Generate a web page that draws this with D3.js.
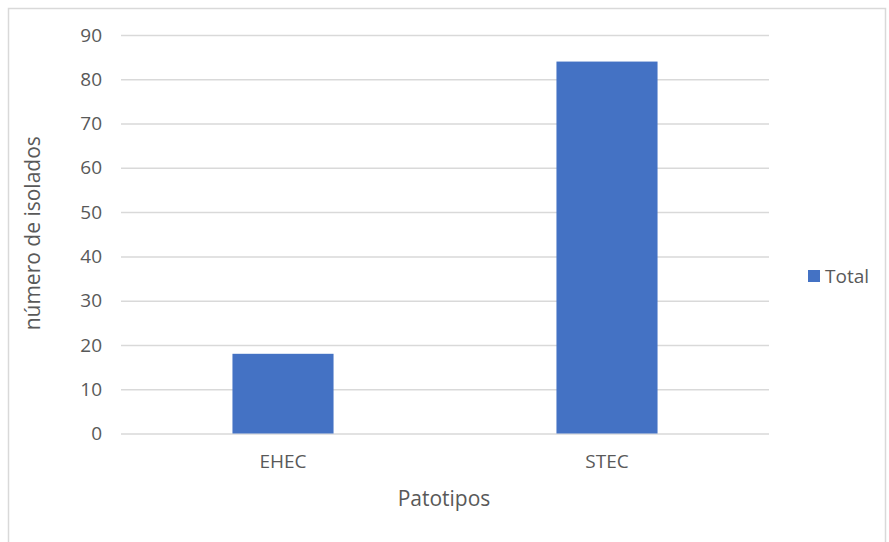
<!DOCTYPE html>
<html><head><meta charset="utf-8">
<script src="https://cdn.jsdelivr.net/npm/d3@7"></script>
<style>body{margin:0;background:#fff}</style>
</head><body>
<script>
const categories = ["EHEC", "STEC"];
const totals = [18, 84];
const yTicks = [0, 10, 20, 30, 40, 50, 60, 70, 80, 90];
const seriesName = "Total";
const xTitle = "Patotipos";
const yTitle = "número de isolados";

(function () {
const W = 889, H = 542;
const svg = d3.select("body").append("svg").attr("width", W).attr("height", H);
const font = "'Open Sans', 'Noto Sans', sans-serif";
const textColor = "#595959";

svg.append("rect").attr("x", 8.5).attr("y", 8.5).attr("width", 877).attr("height", 545)
  .attr("fill", "#fff").attr("stroke", "#d9d9d9").attr("stroke-width", 1.5);

const pLeft = 121, pRight = 769, pTop = 35, pBottom = 433.5;
const x = d3.scaleBand().domain(categories).range([pLeft, pRight]).paddingInner(0.688).paddingOuter(0.344);
const y = d3.scaleLinear().domain([0, 90]).range([pBottom, pTop]);

const yAxis = svg.append("g").attr("transform", `translate(${pLeft},0)`)
  .call(d3.axisLeft(y).tickValues(yTicks).tickSize(-(pRight - pLeft)).tickPadding(19));
yAxis.select(".domain").remove();
yAxis.selectAll(".tick line").attr("stroke", "#d9d9d9").attr("stroke-width", 1.5);
yAxis.selectAll(".tick text").attr("fill", textColor).style("font-family", font).style("font-size", "19px");

svg.selectAll("rect.bar").data(categories).enter().append("rect").attr("class", "bar")
  .attr("x", d => x(d)).attr("width", x.bandwidth())
  .attr("y", (d, i) => y(totals[i])).attr("height", (d, i) => y(0) - y(totals[i]))
  .attr("fill", "#4472c4");

const xAxis = svg.append("g").attr("transform", `translate(0,${pBottom})`)
  .call(d3.axisBottom(x).tickSize(0).tickPadding(21));
xAxis.select(".domain").remove();
xAxis.selectAll(".tick text").attr("fill", textColor).style("font-family", font).style("font-size", "19px");

svg.append("text").attr("x", (pLeft + pRight) / 2 - 1).attr("y", 506).attr("text-anchor", "middle")
  .attr("fill", textColor).style("font-family", font).style("font-size", "21px").text(xTitle);
svg.append("text").attr("transform", `translate(40,${(pTop + pBottom) / 2 - 1}) rotate(-90)`).attr("text-anchor", "middle")
  .attr("fill", textColor).style("font-family", font).style("font-size", "21px").text(yTitle);

svg.append("rect").attr("x", 808).attr("y", 270).attr("width", 12).attr("height", 12).attr("fill", "#4472c4");
svg.append("text").attr("x", 825).attr("y", 283).attr("fill", textColor)
  .style("font-family", font).style("font-size", "19px").text(seriesName);
})();
</script>
</body></html>
